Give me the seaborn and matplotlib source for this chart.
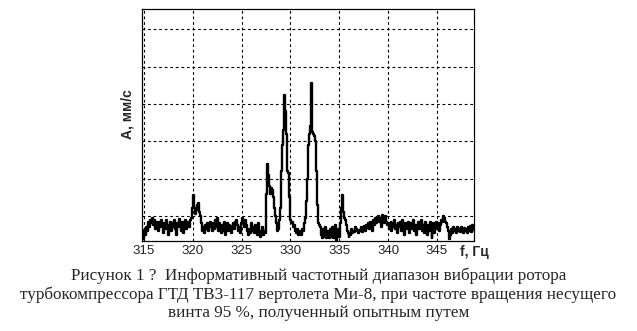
import numpy as np
import pandas as pd
import matplotlib
matplotlib.use("Agg")
import matplotlib.pyplot as plt
import seaborn as sns

# amplitude spectrum, 0.1 Hz step starting at 314.8 Hz
f_start = 314.8
f_step = 0.1
amplitude = [
    0.55, 0.40,
    0.38, 0.62, 0.50, 0.70, 0.60, 0.85, 0.70, 0.90, 0.80, 0.95,
    0.75, 0.90, 0.65, 0.85, 0.80, 0.60, 0.85, 0.70, 0.90, 0.75,
    0.55, 0.80, 0.65, 0.88, 0.70, 0.50, 0.75, 0.85, 0.60, 0.80,
    0.70, 0.90, 0.65, 0.50, 0.80, 0.70, 0.92, 0.75, 0.60, 0.85,
    0.70, 0.55, 0.80, 0.90, 0.65, 0.75, 0.85, 0.70, 0.88, 0.95,
    1.20, 1.56, 1.20, 1.05, 1.15, 1.30, 1.35, 1.10, 1.00, 0.80,
    0.60, 0.70, 0.55, 0.75, 0.65, 0.80, 0.60, 0.72, 0.85, 0.70,
    0.60, 0.80, 0.65, 0.90, 0.70, 0.95, 0.60, 0.80, 0.70, 0.55,
    0.75, 0.60, 0.85, 0.65, 0.50, 0.70, 0.80, 0.60, 0.75, 0.65,
    0.55, 0.72, 0.80, 0.65, 0.85, 0.90, 0.75, 0.60, 0.70, 0.55,
    0.80, 0.95, 0.85, 0.70, 0.90, 0.75, 0.60, 0.50, 0.65, 0.55,
    0.80, 0.60, 0.70, 0.55, 0.75, 0.65, 0.50, 0.80, 0.60, 0.45,
    0.55, 0.70, 0.50, 0.60, 0.55, 0.95, 1.60, 2.40, 2.10, 1.80,
    1.60, 1.75, 1.70, 1.50, 1.20, 1.00, 0.80, 0.60, 0.65, 0.90,
    1.20, 2.20, 2.90, 3.30, 4.24, 3.80, 3.20, 2.20, 2.15, 1.50,
    0.90, 0.80, 0.85, 0.70, 0.75, 0.60, 0.55, 0.65, 0.50, 0.60,
    0.55, 0.50, 0.65, 0.60, 0.80, 0.95, 1.40, 2.00, 2.40, 2.90,
    3.20, 3.40, 4.55, 3.25, 3.20, 3.15, 3.00, 2.20, 1.30, 0.80,
    0.75, 0.70, 0.50, 0.40, 0.65, 0.45, 0.70, 0.40, 0.60, 0.50,
    0.40, 0.65, 0.45, 0.70, 0.40, 0.55, 0.75, 0.35, 0.50, 0.65,
    0.45, 0.80, 1.20, 1.56, 1.10, 0.95, 0.90, 0.75, 0.60, 0.55,
    0.45, 0.55, 0.50, 0.65, 0.55, 0.60, 0.58, 0.70, 0.65, 0.60,
    0.55, 0.62, 0.60, 0.70, 0.58, 0.65, 0.72, 0.60, 0.75, 0.68,
    0.80, 0.65, 0.85, 0.70, 0.60, 0.90, 0.75, 0.95, 0.80, 0.88,
    1.00, 0.85, 0.95, 0.70, 1.02, 0.90, 0.80, 1.00, 0.85, 0.75,
    0.80, 0.65, 0.75, 0.85, 0.60, 0.80, 0.70, 0.90, 0.65, 0.75,
    0.55, 0.80, 0.70, 0.85, 0.60, 0.90, 0.70, 0.50, 0.80, 0.65,
    0.75, 0.85, 0.55, 0.80, 0.70, 0.65, 0.88, 0.60, 0.75, 0.50,
    0.70, 0.85, 0.65, 0.80, 0.90, 0.60, 0.75, 0.55, 0.85, 0.70,
    0.50, 0.75, 0.60, 0.85, 0.70, 0.40, 0.65, 0.80, 0.55, 0.75,
    0.85, 0.65, 0.80, 0.60, 0.75, 0.90, 0.85, 1.00, 0.95, 0.85,
    0.80, 0.70, 0.60, 0.38, 0.50, 0.65, 0.55, 0.70, 0.60, 0.65,
    0.55, 0.70, 0.60, 0.65, 0.58, 0.70, 0.62, 0.55, 0.68, 0.60,
    0.65, 0.55, 0.70, 0.60, 0.72, 0.58, 0.75, 0.62, 0.70,
]
freq = np.round(f_start + f_step * np.arange(len(amplitude)), 2)

x_ticks = [315, 320, 325, 330, 335, 340, 345]
x_ticklabels = ["315", "320", "325", "330", "335", "340", "345"]
y_grid = [1, 2, 3, 4, 5, 6]

xlabel = "f, Гц"
ylabel = "А, мм/с"
caption = ("Рисунок 1 ?  Информативный частотный диапазон вибрации ротора\n"
           "турбокомпрессора ГТД ТВ3-117 вертолета Ми-8, при частоте вращения несущего\n"
           "винта 95 %, полученный опытным путем")

df = pd.DataFrame({"f": freq, "A": amplitude})

sns.set_style("white")
plt.rcParams["font.family"] = ["Liberation Sans", "DejaVu Sans"]

fig = plt.figure(figsize=(6.37, 3.31), dpi=100)
ax = fig.add_axes([142 / 637, 1 - 241 / 331, (474 - 142) / 637, (241 - 9) / 331])

sns.lineplot(data=df, x="f", y="A", ax=ax, color="black", linewidth=1.7,
             drawstyle="steps-mid")

ax.set_xlim(314.8, 348.8)
ax.set_ylim(0.33, 6.54)
ax.set_xticks(x_ticks)
ax.set_xticklabels(x_ticklabels, fontsize=9.5, color="#222222")
ax.set_yticks(y_grid)
ax.set_yticklabels([])
ax.tick_params(axis="both", length=0, pad=3)
ax.grid(True, color="black", linestyle=(0, (2.5, 2.5)), linewidth=0.8)
ax.set_xlabel("")
ax.set_ylabel("")
for s in ax.spines.values():
    s.set_color("black")
    s.set_linewidth(0.9)

fig.text(460 / 637, 1 - 252 / 331, xlabel, fontsize=10, fontweight="bold",
         ha="left", va="center")
fig.text(128 / 637, 1 - 114 / 331, ylabel, fontsize=10, fontweight="bold",
         rotation=90, ha="center", va="center")
fig.text(0.5, 1 - 294 / 331, caption, fontsize=12.3, ha="center", va="center",
         family=["Liberation Serif", "DejaVu Serif"], linespacing=1.18)

fig.savefig("out.png", dpi=100)
